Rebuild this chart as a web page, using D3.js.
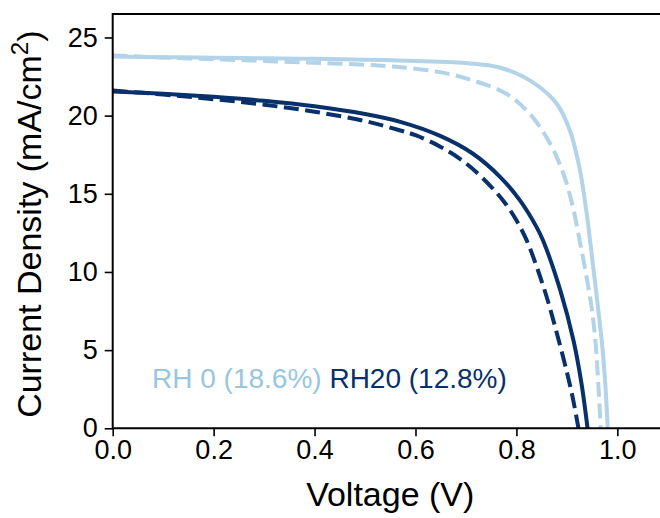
<!DOCTYPE html>
<html>
<head>
<meta charset="utf-8">
<script src="https://cdn.jsdelivr.net/npm/d3@7"></script>
<style>
  body { margin: 0; background: white; }
  text { font-family: "Liberation Sans", Arial, sans-serif; }
</style>
</head>
<body>
<div id="container"></div>
<script>
// RH 0, solid and dashed scans
let rh0SolidV = [0, 0.1, 0.2, 0.3, 0.4, 0.5, 0.6, 0.649, 0.7, 0.748, 0.78, 0.813, 0.847, 0.88, 0.906, 0.926, 0.939, 0.95, 0.96, 0.97, 0.976, 0.981];
let rh0SolidJ = [23.78, 23.74, 23.7, 23.67, 23.63, 23.58, 23.5, 23.44, 23.36, 23.2, 22.95, 22.5, 21.8, 20.76, 19.05, 16.5, 13.8, 10.9, 8.2, 5.3, 2.9, 0];
let rh0DashV = [0, 0.1, 0.2, 0.3, 0.4, 0.5, 0.57, 0.649, 0.714, 0.78, 0.827, 0.867, 0.893, 0.912, 0.926, 0.94, 0.95, 0.957, 0.962, 0.967];
let rh0DashJ = [23.85, 23.72, 23.6, 23.5, 23.38, 23.25, 23.1, 22.78, 22.25, 21.4, 20.1, 18.2, 16.3, 14.15, 11.9, 9.5, 7.5, 5.4, 3.0, 0];

// RH 20
let rh20SolidV = [0, 0.1, 0.2, 0.3, 0.4, 0.5, 0.57, 0.649, 0.714, 0.768, 0.807, 0.84, 0.853, 0.887, 0.913, 0.929, 0.941];
let rh20SolidJ = [21.55, 21.4, 21.2, 20.95, 20.6, 20.1, 19.6, 18.7, 17.56, 16.07, 14.58, 12.87, 12.0, 8.82, 5.63, 2.86, 0];
let rh20DashV = [0, 0.1, 0.2, 0.3, 0.4, 0.5, 0.57, 0.6, 0.65, 0.7, 0.75, 0.78, 0.8, 0.82, 0.84, 0.86, 0.88, 0.9, 0.912, 0.923];
let rh20DashJ = [21.6, 21.35, 21.05, 20.7, 20.25, 19.65, 19.05, 18.75, 18.0, 16.95, 15.45, 14.3, 13.3, 12.05, 10.35, 8.4, 6.1, 3.6, 1.9, 0];

let xTicks = [0, 0.2, 0.4, 0.6, 0.8, 1.0];
let yTicks = [0, 5, 10, 15, 20, 25];

let legendLabels = ["RH 0 (18.6%)", "RH20 (12.8%)"];

let lightBlue = "#b2d3e8";
let lightText = "#98c6e1";
let darkBlue = "#08306b";

let w = 660;
let h = 518;

let plotLeft = 112.7;
let plotRight = 667.8;
let plotTop = 14;
let plotBottom = 428.3;

let viz = d3.select("#container")
  .append("svg")
    .attr("width", w)
    .attr("height", h)
    .style("background-color", "white")
;

let xScale = d3.scaleLinear().domain([0, 1.1]).range([plotLeft, plotRight]);
let yScale = d3.scaleLinear().domain([0, 26.5]).range([plotBottom, plotTop]);

function zipSeries(vs, js){
    return vs.map(function(v, i){ return {v: v, j: js[i]}; });
}

let series = [
    {pts: zipSeries(rh0SolidV, rh0SolidJ), color: lightBlue, dash: null},
    {pts: zipSeries(rh0DashV, rh0DashJ), color: lightBlue, dash: "15,6.5"},
    {pts: zipSeries(rh20SolidV, rh20SolidJ), color: darkBlue, dash: null},
    {pts: zipSeries(rh20DashV, rh20DashJ), color: darkBlue, dash: "15,6.5"}
];

let line = d3.line()
    .x(function(d){ return xScale(d.v); })
    .y(function(d){ return yScale(d.j); })
    .curve(d3.curveCatmullRom.alpha(0.5))
;

viz.selectAll(".curve").data(series).enter()
  .append("path")
    .classed("curve", true)
    .attr("d", function(d){ return line(d.pts); })
    .attr("fill", "none")
    .attr("stroke", function(d){ return d.color; })
    .attr("stroke-width", 4)
    .attr("stroke-dasharray", function(d){ return d.dash; })
;

// axes
let xAxis = viz.append("g")
    .attr("transform", "translate(0," + plotBottom + ")")
    .call(d3.axisBottom(xScale).tickValues(xTicks).tickFormat(d3.format(".1f")).tickSize(8).tickPadding(4))
;

let yAxis = viz.append("g")
    .attr("transform", "translate(" + plotLeft + ",0)")
    .call(d3.axisLeft(yScale).tickValues(yTicks).tickSize(8).tickPadding(7))
;

xAxis.select(".domain").remove();
yAxis.select(".domain").remove();

viz.selectAll(".tick line").attr("stroke", "#000").attr("stroke-width", 1.6);
viz.selectAll(".tick text")
    .attr("fill", "#000")
    .style("font-size", "27px")
;

// frame
viz.append("path")
    .attr("d", "M" + plotRight + "," + plotTop + "H" + plotLeft + "V" + plotBottom + "H" + plotRight)
    .attr("fill", "none")
    .attr("stroke", "#000")
    .attr("stroke-width", 2)
;

viz.append("text")
    .text("Voltage (V)")
    .attr("x", (plotLeft + plotRight) / 2)
    .attr("y", 506)
    .attr("text-anchor", "middle")
    .attr("fill", "#000")
    .style("font-size", "34px")
;

let yLabel = viz.append("text")
    .attr("transform", "translate(41," + ((plotTop + plotBottom) / 2 + 3) + ") rotate(-90)")
    .attr("text-anchor", "middle")
    .attr("fill", "#000")
    .style("font-size", "34px")
;
yLabel.append("tspan").text("Current Density (mA/cm");
yLabel.append("tspan").text("2").attr("dy", -13).style("font-size", "24px");
yLabel.append("tspan").text(")").attr("dy", 13);

let legend = viz.append("text")
    .attr("x", 152)
    .attr("y", 388)
    .style("font-size", "28px")
;
legend.append("tspan").text(legendLabels[0] + " ").attr("fill", lightText);
legend.append("tspan").text(legendLabels[1]).attr("fill", darkBlue);
</script>
</body>
</html>
